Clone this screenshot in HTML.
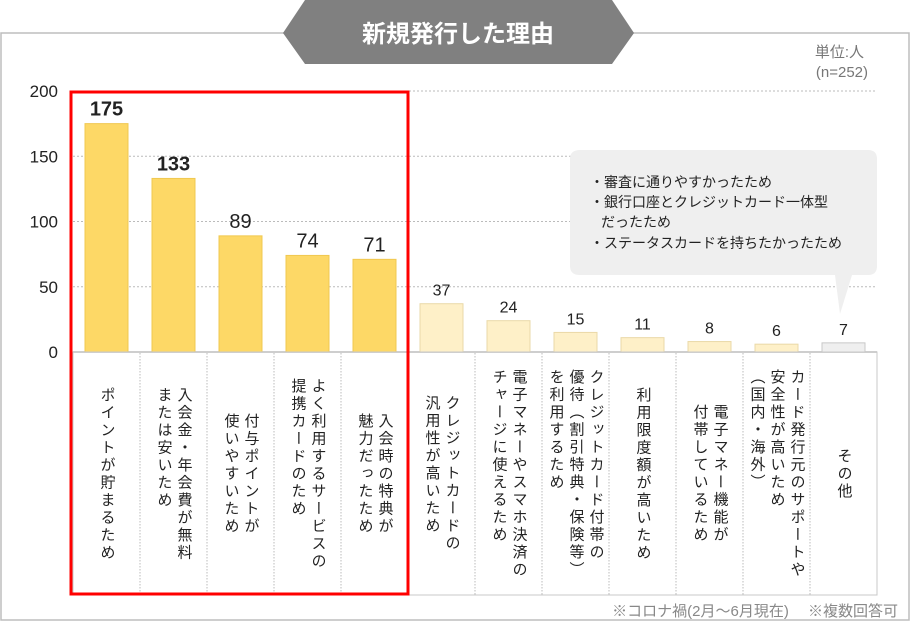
<!DOCTYPE html>
<html><head><meta charset="utf-8"><style>
body{margin:0;background:#fff;font-family:"Liberation Sans","Noto Sans CJK JP",sans-serif;}
#wrap{position:relative;width:911px;height:631px;overflow:hidden;}
.vt{position:absolute;writing-mode:vertical-rl;font-size:15px;line-height:20px;letter-spacing:2.5px;color:#222;display:flex;align-items:center;justify-content:center;}
</style></head><body>
<div id="wrap">
<svg id="svg" width="911" height="631" style="position:absolute;left:0;top:0">
<rect x="1" y="33" width="908" height="587" fill="#fff" stroke="#bdbdbd" stroke-width="1.5"/>
<polygon points="283,33 305,0 612,0 634,33 612,64 305,64" fill="#808080"/>
<text x="458" y="42" text-anchor="middle" fill="#fff" font-size="24" font-weight="bold" font-family="Liberation Sans, Noto Sans CJK JP, sans-serif">新規発行した理由</text>
<text x="864" y="57" text-anchor="end" fill="#777" font-size="15" font-family="Liberation Sans, Noto Sans CJK JP, sans-serif">単位:人</text>
<text x="868" y="77" text-anchor="end" fill="#777" font-size="15" font-family="Liberation Sans, Noto Sans CJK JP, sans-serif">(n=252)</text>
<g id="grid"></g><g id="bars"></g><g id="ylab"></g><g id="vals"></g>
<path d="M580,150 H868 Q877,150 877,159 V266 Q877,275 868,275 H852 L840,314 L835,275 H580 Q570,275 570,266 V159 Q570,150 580,150 Z" fill="#efefef"/>
<g font-size="14" fill="#222" font-family="Liberation Sans, Noto Sans CJK JP, sans-serif">
<text x="590" y="187">・審査に通りやすかったため</text>
<text x="590" y="207">・銀行口座とクレジットカード一体型</text>
<text x="601" y="227">だったため</text>
<text x="590" y="248">・ステータスカードを持ちたかったため</text>
</g>
<rect x="73" y="352" width="804" height="243" fill="none" stroke="#c8c8c8" stroke-width="1"/>
<g id="dividers"></g>
<rect x="71" y="92" width="337" height="502" fill="none" stroke="#f00" stroke-width="3"/>
<text x="898" y="616" text-anchor="end" fill="#888" font-size="15" font-family="Liberation Sans, Noto Sans CJK JP, sans-serif">※コロナ禍(2月～6月現在)　 ※複数回答可</text>
</svg>
<div id="labels"></div>
</div>
<script>
const categories=["ポイントが貯まるため","入会金・年会費が無料<br>または安いため","付与ポイントが<br>使いやすいため","よく利用するサービスの<br>提携カードのため","入会時の特典が<br>魅力だったため","クレジットカードの<br>汎用性が高いため","電子マネーやスマホ決済の<br>チャージに使えるため","クレジットカード付帯の<br>優待（割引特典・保険等）<br>を利用するため","利用限度額が高いため","電子マネー機能が<br>付帯しているため","カード発行元のサポートや<br>安全性が高いため<br>（国内・海外）","その他"];
const values=[175,133,89,74,71,37,24,15,11,8,6,7];
const yTicks=[0,50,100,150,200];
const NS="http://www.w3.org/2000/svg";
const x0=73,slot=67,yBase=352,yTop=91,yMax=200;
const y=v=>yBase-(v/yMax)*(yBase-yTop);
const xc=i=>x0+slot*i+slot/2;
function mk(tag,attrs,parent){const e=document.createElementNS(NS,tag);for(const k in attrs)e.setAttribute(k,attrs[k]);document.getElementById(parent).appendChild(e);return e;}
yTicks.forEach(t=>{
  if(t>0){const l=mk('line',{x1:x0,x2:877,y1:y(t),y2:y(t),stroke:'#bbb','stroke-dasharray':'2,2'},'grid');
  
  }
  const tx=mk('text',{x:58,y:y(t)+6,'text-anchor':'end','font-size':17,fill:'#222','font-family':'Liberation Sans, sans-serif'},'ylab');
  tx.textContent=t;
  
  
});
values.forEach((v,i)=>{
  const fill=i<5?'#fdd866':(i<11?'#fef0c8':'#efefef');
  const stroke=i<5?'#f0c850':(i<11?'#ead9a8':'#c8c8c8');
  const r=mk('rect',{x:xc(i)-21.5,y:y(v),width:43,height:yBase-y(v),fill:fill,stroke:stroke,'stroke-width':1},'bars');
  
  
  const t=mk('text',{x:xc(i),y:y(v)-8,'text-anchor':'middle','font-size':i<5?20:16,'font-weight':i<2?'bold':'normal',fill:'#222','font-family':'Liberation Sans, sans-serif'},'vals');
  t.textContent=v;
  
  
  if(i>0){const d=mk('line',{x1:x0+slot*i,x2:x0+slot*i,y1:353,y2:595,stroke:'#bbb','stroke-dasharray':'1.5,1.5'},'dividers');
  
  }
  const lab=document.createElement('div');
  lab.className='vt';
  lab.style.left=(x0+slot*i)+'px';lab.style.top='356px';lab.style.width=slot+'px';lab.style.height='236px';
  lab.innerHTML=categories[i];
  
  
  document.getElementById('labels').appendChild(lab);
});
const ax=mk('line',{x1:x0,x2:877,y1:yBase,y2:yBase,stroke:'#aaa','stroke-width':1.5},'grid');


</script>
</body></html>
